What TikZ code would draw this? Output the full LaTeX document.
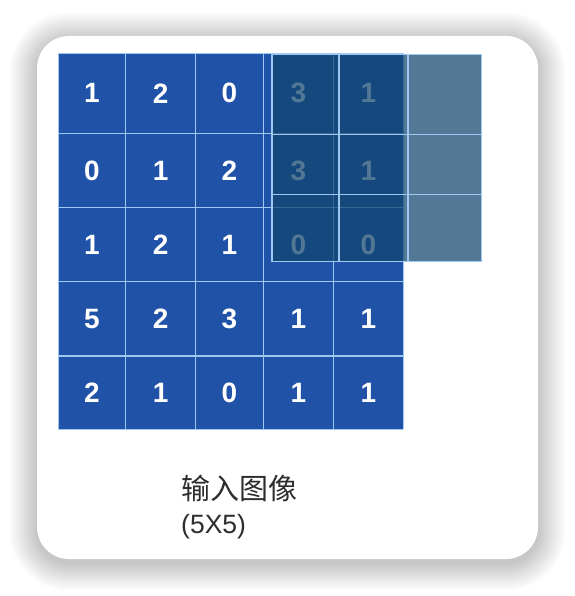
\documentclass[tikz,border=0pt]{standalone}
\usepackage{fontspec}
\setmainfont{Liberation Sans}
\newfontfamily\cjk{Noto Sans CJK SC}
\definecolor{gridblue}{RGB}{32,82,168}
\definecolor{gridline}{RGB}{158,200,242}
\definecolor{kernel}{RGB}{18,70,111}
\definecolor{captext}{RGB}{45,45,45}
\tikzset{
  num/.style={text=white, font=\bfseries\fontsize{28}{30}\selectfont, inner sep=0pt},
  gl/.style={draw=gridline, line width=1.5pt},
  kl/.style={draw=gridline, line width=1.5pt},
  card/.style={fill=white, rounded corners=32pt},
  shadowlayer/.style={fill=black, fill opacity=0.006},
}
\begin{document}
\begin{tikzpicture}[x=1pt,y=-1pt]
\useasboundingbox (0,0) rectangle (574,596);
\fill[white] (0,0) rectangle (574,596);
% soft shadow
\foreach \i in {1,...,28}
  \fill[shadowlayer, rounded corners={32pt+\i pt}] ({37-\i},{40-\i}) rectangle ({538+\i},{563+\i});
% card
\path[card] (37,36) rectangle (538,559);
% grid
\fill[gridblue] (58.3,53.3) rectangle (403.3,429.3);
\foreach \r/\y/\a/\b/\c/\d/\e in {1/93.3/1/2/0/3/1, 2/170.5/0/1/2/3/1, 3/244.7/1/2/1/0/0, 4/318.9/5/2/3/1/1, 5/392.7/2/1/0/1/1}{
  \node[num] (n\r-1) at (92,\y) {\a};
  \node[num] (n\r-2) at (160.7,\y) {\b};
  \node[num] (n\r-3) at (229.5,\y) {\c};
  \node[num] (n\r-4) at (298.3,\y) {\d};
  \node[num] (n\r-5) at (368.3,\y) {\e};
}
\foreach \x in {58.3,125.7,195.7,263.3,333.3,403.3}
  \draw[gl] (\x,53.3) -- (\x,429.3);
\foreach \y in {53.3,133.3,207.7,281.7,356,429.3}
  \draw[gl] (58.3,\y) -- (403.3,\y);
% kernel overlay
\fill[kernel, fill opacity=0.73] (272,54.3) rectangle (481.7,261.7);
\foreach \x in {272,339,408,481.7}
  \draw[kl] (\x,54.3) -- (\x,261.7);
\foreach \y in {54.3,134.7,194.3,261.7}
  \draw[kl] (272,\y) -- (481.7,\y);
% caption
\node[anchor=west, inner sep=0pt, text=captext, font=\cjk\fontsize{29}{34}\selectfont] (cap1) at (181,488) {输入图像};
\node[anchor=west, inner sep=0pt, text=captext, font=\fontsize{26.5}{30}\selectfont] (cap2) at (181,527) {(5X5)};
\end{tikzpicture}
\end{document}
